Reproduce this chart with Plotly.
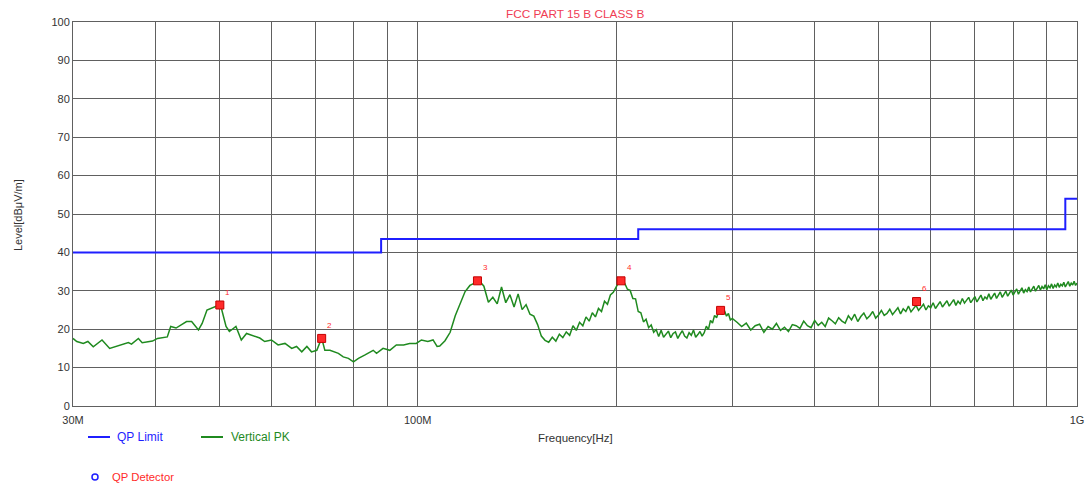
import math
import plotly.graph_objects as go

# ---- QP limit (FCC Part 15 Class B, 3 m) ----
limit_freq = [30, 88, 216, 960, 1000]          # MHz
limit_level = [40.0, 43.5, 46.0, 54.0, 54.0]   # dBuV/m

# ---- Vertical peak sweep, 30 - 107 MHz ----
low_freq = [30.0, 30.4, 31.1, 31.6, 32.2, 33.2, 34.1, 35.3, 36.4, 36.8,
            37.7, 38.2, 39.6, 40.3, 41.7, 42.2, 43.0, 44.6, 45.4, 46.5,
            47.1, 47.9, 49.8, 50.2, 51.2, 51.8, 53.0, 54.0, 55.0, 56.3,
            57.6, 58.6, 60.0, 61.4, 62.9, 64.4, 65.5, 66.7, 67.9, 69.0,
            70.3, 71.5, 72.3, 73.6, 74.5, 75.8, 77.1, 78.5, 79.9, 81.3,
            83.2, 85.6, 86.6, 88.6, 90.7, 92.8, 95.2, 97.2, 99.5, 101.3,
            103.6, 105.5, 107.0]
low_level = [17.6, 16.8, 16.3, 16.8, 15.4, 17.2, 15.0, 15.9, 16.5, 16.1,
             17.6, 16.5, 16.9, 17.6, 18.0, 20.7, 20.3, 22.0, 22.0, 19.8,
             21.5, 25.0, 26.0, 26.4, 20.7, 19.4, 20.7, 17.2, 18.9, 18.2,
             17.7, 16.8, 17.2, 15.9, 16.3, 15.0, 15.5, 14.1, 15.5, 14.1,
             14.5, 17.7, 14.5, 14.5, 14.1, 13.7, 12.8, 12.4, 11.5, 12.4,
             13.3, 14.5, 13.7, 15.0, 14.5, 15.9, 15.9, 16.3, 16.3, 17.2,
             16.8, 17.2, 15.5]

# ---- Vertical peak sweep, 108 - 300 MHz ----
mid_freq = [108, 110, 112, 114, 116, 118, 120, 122, 124, 126,
            128, 130, 132, 134, 136, 138, 140, 142, 144, 146,
            148, 150, 152, 154, 156, 158, 160, 162, 164, 166,
            168, 170, 172, 174, 176, 178, 180, 182, 184, 186,
            188, 190, 192, 194, 196, 198, 200, 202, 204, 206,
            208, 210, 212, 214, 216, 218, 220, 222, 224, 226,
            228, 230, 232, 234, 236, 238, 240, 242, 244, 246,
            248, 250, 252, 254, 256, 258, 260, 262, 264, 266,
            268, 270, 272, 274, 276, 278, 280, 282, 284, 286,
            288, 290, 292, 294, 296, 298, 300]
mid_level = [15.6, 17.0, 19.2, 23.5, 26.9, 29.8, 31.4, 32.0, 32.6, 31.2,
             27.0, 28.3, 26.6, 31.0, 26.9, 29.0, 25.8, 29.2, 25.1, 26.4,
             23.9, 23.4, 21.2, 18.2, 17.1, 16.6, 17.9, 16.9, 18.7, 17.8,
             19.3, 18.4, 20.9, 19.7, 21.8, 20.9, 23.2, 22.1, 24.3, 23.2,
             25.4, 24.6, 27.3, 26.5, 28.9, 29.6, 31.2, 32.4, 32.6, 32.0,
             30.4, 30.1, 28.0, 27.9, 24.6, 24.3, 21.9, 22.6, 20.4, 21.1,
             19.2, 19.9, 18.1, 19.7, 17.9, 18.6, 19.5, 17.8, 18.9, 19.3,
             17.6, 18.7, 19.6, 18.2, 17.7, 19.1, 18.4, 19.8, 17.9, 18.6,
             19.4, 18.2, 19.1, 20.8, 19.9, 22.3, 21.6, 23.6, 23.0, 24.6,
             24.9, 23.8, 24.8, 23.4, 24.1, 22.4, 22.8]

# ---- Vertical peak sweep, 305 - 1000 MHz ----
high_freq = [305, 310, 315, 320, 325, 330, 335, 340, 345, 350,
             355, 360, 365, 370, 375, 380, 385, 390, 395, 400,
             405, 410, 415, 420, 425, 430, 435, 440, 445, 450,
             455, 460, 465, 470, 475, 480, 485, 490, 495, 500,
             505, 510, 515, 520, 525, 530, 535, 540, 545, 550,
             555, 560, 565, 570, 575, 580, 585, 590, 595, 600,
             605, 610, 615, 620, 625, 630, 635, 640, 645, 650,
             655, 660, 665, 670, 675, 680, 685, 690, 695, 700,
             705, 710, 715, 720, 725, 730, 735, 740, 745, 750,
             755, 760, 765, 770, 775, 780, 785, 790, 795, 800,
             805, 810, 815, 820, 825, 830, 835, 840, 845, 850,
             855, 860, 865, 870, 875, 880, 885, 890, 895, 900,
             905, 910, 915, 920, 925, 930, 935, 940, 945, 950,
             955, 960, 965, 970, 975, 980, 985, 990, 995, 1000]
high_level = [21.8, 20.7, 21.6, 19.8, 20.9, 21.3, 19.2, 20.7, 20.0, 21.5,
              19.7, 20.5, 19.4, 21.2, 20.9, 20.2, 22.1, 20.9, 20.4, 22.3,
              21.0, 21.8, 20.7, 22.9, 22.2, 21.4, 23.0, 22.1, 21.6, 23.5,
              22.4, 23.9, 22.0, 23.3, 24.2, 22.7, 23.5, 24.6, 22.9, 23.7,
              24.9, 23.6, 24.1, 25.2, 23.8, 24.7, 25.6, 24.0, 25.3, 24.6,
              26.0, 24.5, 25.4, 26.2, 24.9, 25.8, 26.5, 25.0, 26.1, 25.6,
              26.9, 25.4, 26.3, 27.2, 25.8, 26.6, 27.4, 26.0, 26.9, 27.7,
              26.2, 27.3, 26.6, 28.0, 26.8, 27.5, 28.3, 26.9, 27.8, 28.5,
              27.1, 28.1, 28.9, 27.4, 28.4, 27.9, 29.2, 27.8, 28.6, 29.4,
              28.0, 28.9, 29.7, 28.3, 29.1, 29.9, 28.6, 29.5, 30.2, 28.9,
              29.8, 30.5, 29.1, 30.0, 30.8, 29.4, 30.3, 29.8, 31.0, 29.7,
              30.6, 31.2, 29.9, 30.8, 31.4, 30.2, 31.1, 30.5, 31.6, 30.3,
              31.3, 30.8, 31.8, 30.6, 31.5, 31.0, 32.0, 30.9, 31.7, 31.3,
              32.2, 31.0, 31.9, 32.4, 31.2, 32.0, 31.5, 32.5, 31.4, 32.0]

# ---- QP detector marker points ----
marker_id = ["1", "2", "3", "4", "5", "6"]
marker_freq = [50.1, 71.5, 123.2, 203.4, 288.0, 571.0]
marker_level = [26.3, 17.6, 32.6, 32.6, 24.9, 27.2]

# grid lines on the frequency axis (MHz) and the three labelled ones
grid_freq = [30, 40, 50, 60, 70, 80, 90, 100, 200, 300, 400, 500, 600, 700, 800, 900, 1000]
freq_labels = {30: "30M", 100: "100M", 1000: "1G"}

BLUE = "#1f1fff"
GREEN = "#1f8a1f"
RED = "#ff2a2a"
FONT = "Liberation Sans, Arial, sans-serif"

# plot-area edges in pixels
W, H = 1088, 487
L, R, T, B = 73, 1077, 22, 406


def px(xp):
    return (xp - L) / (R - L)


def py(yp):
    return (B - yp) / (B - T)


pk_freq = low_freq + mid_freq + high_freq
pk_level = low_level + mid_level + high_level

fig = go.Figure()

fig.add_trace(go.Scatter(
    x=limit_freq, y=limit_level, mode="lines", line_shape="hv",
    line=dict(color=BLUE, width=2), name="QP Limit", hoverinfo="skip"))

fig.add_trace(go.Scatter(
    x=pk_freq, y=pk_level, mode="lines",
    line=dict(color=GREEN, width=1.5), name="Vertical PK", hoverinfo="skip"))

fig.add_trace(go.Scatter(
    x=marker_freq, y=marker_level, mode="markers",
    marker=dict(symbol="square", size=8, color=RED,
                line=dict(color="#c40000", width=1)),
    name="QP Detector", hoverinfo="skip"))

annotations = []
for mid, f, lv in zip(marker_id, marker_freq, marker_level):
    annotations.append(dict(
        x=math.log10(f), y=lv, xref="x", yref="y", text=mid, showarrow=False,
        xanchor="center", yanchor="middle",
        xshift=8, yshift=13, font=dict(family=FONT, size=8, color=RED)))

annotations += [
    # chart title
    dict(x=0.5, y=py(14), xref="paper", yref="paper", xanchor="center", yanchor="middle",
         text="FCC PART 15 B CLASS B", showarrow=False,
         font=dict(family=FONT, size=11.8, color="#f03c55")),
    # axis titles
    dict(x=px(575), y=py(438), xref="paper", yref="paper", xanchor="center", yanchor="middle",
         text="Frequency[Hz]", showarrow=False,
         font=dict(family=FONT, size=11.5, color="#333333")),
    dict(x=px(18), y=py(215), xref="paper", yref="paper", xanchor="center", yanchor="middle",
         text="Level[dBμV/m]", textangle=-90, showarrow=False,
         font=dict(family=FONT, size=11, color="#333333")),
    # legend entries
    dict(x=px(115), y=py(437), xref="paper", yref="paper", xanchor="left", yanchor="middle",
         text="QP Limit", showarrow=False, font=dict(family=FONT, size=12, color=BLUE)),
    dict(x=px(229), y=py(437), xref="paper", yref="paper", xanchor="left", yanchor="middle",
         text="Vertical PK", showarrow=False, font=dict(family=FONT, size=12, color=GREEN)),
    dict(x=px(110), y=py(477), xref="paper", yref="paper", xanchor="left", yanchor="middle",
         text="QP Detector", showarrow=False, font=dict(family=FONT, size=11.3, color=RED)),
]

shapes = [
    dict(type="line", xref="paper", yref="paper", x0=px(88), x1=px(110),
         y0=py(437), y1=py(437), line=dict(color=BLUE, width=2)),
    dict(type="line", xref="paper", yref="paper", x0=px(201), x1=px(223),
         y0=py(437), y1=py(437), line=dict(color=GREEN, width=2)),
    dict(type="circle", xref="paper", yref="paper", x0=px(92), x1=px(98),
         y0=py(480), y1=py(474), line=dict(color=BLUE, width=1.5)),
]

fig.update_layout(
    width=W, height=H,
    margin=dict(l=L, r=W - R, t=T, b=H - B, autoexpand=False),
    paper_bgcolor="white", plot_bgcolor="white",
    showlegend=False,
    font=dict(family=FONT, size=11, color="#333333"),
    xaxis=dict(
        type="log", range=[math.log10(30), math.log10(1000)],
        tickmode="array", tickvals=grid_freq,
        ticktext=[freq_labels.get(f, "") for f in grid_freq],
        showgrid=True, gridcolor="#606060", gridwidth=1,
        showline=True, linecolor="#606060", linewidth=1, mirror=True,
        ticks="", zeroline=False, automargin=False, ticklabelstandoff=4,
        tickfont=dict(size=11, color="#333333")),
    yaxis=dict(
        range=[0, 100], tickmode="linear", tick0=0, dtick=10,
        showgrid=True, gridcolor="#606060", gridwidth=1,
        showline=True, linecolor="#606060", linewidth=1, mirror=True,
        ticks="", zeroline=False, automargin=False,
        tickfont=dict(size=11, color="#333333")),
    annotations=annotations, shapes=shapes,
)

fig.write_html("out.html")
